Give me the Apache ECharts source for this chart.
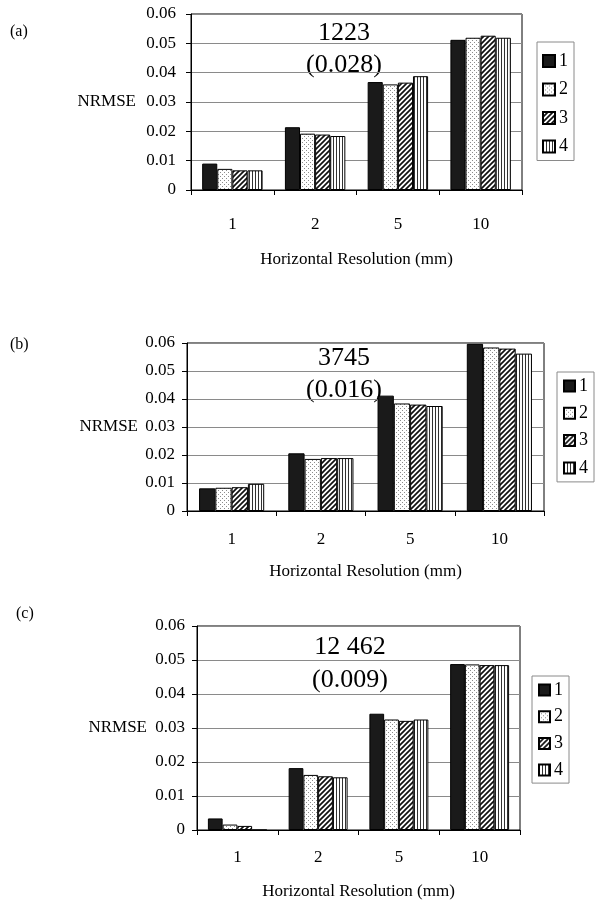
<!DOCTYPE html>
<html>
<head>
<meta charset="utf-8">
<script src="https://cdn.jsdelivr.net/npm/echarts@6/dist/echarts.min.js"></script>
<style>
html,body{margin:0;padding:0;background:#fff;}
#chart{width:605px;height:901px;}
</style>
</head>
<body>
<div id="chart"></div>
<script>
// ---- data ----
const categories = ['1', '2', '5', '10'];
const seriesNames = ['1', '2', '3', '4'];
const panelLabels = ['(a)', '(b)', '(c)'];
const yTicks = [0, 0.01, 0.02, 0.03, 0.04, 0.05, 0.06];
const yName = 'NRMSE';
const xName = 'Horizontal Resolution (mm)';

const a1 = [0.0090, 0.0214, 0.0368, 0.0512];
const a2 = [0.0072, 0.0192, 0.0360, 0.0519];
const a3 = [0.0067, 0.0189, 0.0366, 0.0526];
const a4 = [0.0067, 0.0184, 0.0388, 0.0519];

const b1 = [0.0081, 0.0206, 0.0412, 0.0597];
const b2 = [0.0083, 0.0186, 0.0384, 0.0584];
const b3 = [0.0085, 0.0189, 0.0380, 0.0580];
const b4 = [0.0097, 0.0189, 0.0375, 0.0562];

const c1 = [0.0034, 0.0182, 0.0342, 0.0488];
const c2 = [0.0016, 0.0162, 0.0325, 0.0487];
const c3 = [0.0012, 0.0158, 0.0321, 0.0485];
const c4 = [0, 0.0155, 0.0325, 0.0485];

const annA = ['1223', '(0.028)'];
const annB = ['3745', '(0.016)'];
const annC = ['12 462', '(0.009)'];

// ---- styles ----
const FONT = '"Liberation Serif", "Times New Roman", serif';

function makePattern(kind) {
  const c = document.createElement('canvas');
  let s = 4;
  if (kind === 'diag') s = 5;
  if (kind === 'vert') s = 3;
  c.width = s; c.height = s;
  const g = c.getContext('2d');
  g.fillStyle = '#fff';
  g.fillRect(0, 0, s, s);
  if (kind === 'dots') {
    g.fillStyle = '#8c8c8c';
    g.fillRect(0, 0, 1, 1);
    g.fillRect(2, 2, 1, 1);
  } else if (kind === 'diag') {
    g.strokeStyle = '#111';
    g.lineWidth = 1.7;
    g.beginPath();
    g.moveTo(0, s); g.lineTo(s, 0);
    g.moveTo(-1, 1); g.lineTo(1, -1);
    g.moveTo(s - 1, s + 1); g.lineTo(s + 1, s - 1);
    g.stroke();
  } else if (kind === 'vert') {
    g.fillStyle = '#333';
    g.fillRect(0, 0, 1, s);
  }
  return { image: c, repeat: 'repeat' };
}
const fills = ['#1a1a1a', makePattern('dots'), makePattern('diag'), makePattern('vert')];

const panels = [
  { data: [a1, a2, a3, a4], ann: annA,
    grid: { left: 191, top: 14, width: 331, height: 176 },
    labelMargin: 15, xLabelMargin: 26, xNameGap: 61, yNameGap: 55,
    legend: { left: 537, top: 42, itemGap: 10.5, padding: [10, 6, 5, 5], icon: 12 },
    label: { x: 10, y: 33 }, annX: [344, 344], annY: [33, 65] },
  { data: [b1, b2, b3, b4], ann: annB,
    grid: { left: 187, top: 343, width: 357, height: 168 },
    labelMargin: 12, xLabelMargin: 20, xNameGap: 52, yNameGap: 49,
    legend: { left: 557, top: 372, itemGap: 9.3, padding: [5, 6, 5, 6], icon: 11 },
    label: { x: 10, y: 346 }, annX: [344, 344], annY: [358, 390] },
  { data: [c1, c2, c3, c4], ann: annC,
    grid: { left: 197, top: 626, width: 323, height: 207 },
    labelMargin: 12, xLabelMargin: 19, xNameGap: 53, yNameGap: 50,
    legend: { left: 532, top: 676, itemGap: 8.7, padding: [5, 6, 4, 6], icon: 11 },
    label: { x: 16, y: 615 }, annX: [350, 350], annY: [647, 680] }
];

const grids = [], xAxes = [], yAxes = [], series = [], legends = [], graphics = [];
panels.forEach((p, i) => {
  grids.push(Object.assign({ show: true, borderColor: '#000', borderWidth: 1, backgroundColor: 'transparent', containLabel: false }, p.grid));
  xAxes.push({
    type: 'category', gridIndex: i, data: categories,
    boundaryGap: true,
    name: xName, nameLocation: 'middle', nameGap: p.xNameGap,
    nameTextStyle: { fontFamily: FONT, fontSize: 17, color: '#000' },
    axisLine: { lineStyle: { color: '#000', width: 1 } },
    axisTick: { show: true, length: 5, lineStyle: { color: '#000' } },
    axisLabel: { fontFamily: FONT, fontSize: 17, color: '#000', margin: p.xLabelMargin },
    splitLine: { show: false }
  });
  yAxes.push({
    type: 'value', gridIndex: i, min: yTicks[0], max: yTicks[yTicks.length - 1], interval: 0.01,
    name: yName, nameLocation: 'middle', nameRotate: 0, nameGap: p.yNameGap,
    nameTextStyle: { fontFamily: FONT, fontSize: 17, color: '#000', align: 'right', verticalAlign: 'middle' },
    axisLine: { show: true, lineStyle: { color: '#000', width: 1 } },
    axisTick: { show: true, length: 5, lineStyle: { color: '#000' } },
    axisLabel: { fontFamily: FONT, fontSize: 17, color: '#000', margin: p.labelMargin,
      formatter: v => (v === 0 ? '0' : v.toFixed(2)) },
    splitLine: { show: true, lineStyle: { color: '#8a8a8a', width: 1 } }
  });
  p.data.forEach((vals, k) => {
    series.push({
      type: 'bar', name: seriesNames[k], xAxisIndex: i, yAxisIndex: i,
      data: vals, barGap: '0%', barCategoryGap: '27%',
      itemStyle: { color: fills[k], borderColor: '#000', borderWidth: 1 },
      emphasis: { disabled: true }, animation: false
    });
  });
  legends.push({
    orient: 'vertical', left: p.legend.left, top: p.legend.top,
    padding: p.legend.padding, itemGap: p.legend.itemGap,
    itemWidth: p.legend.icon, itemHeight: p.legend.icon, icon: 'rect',
    borderColor: '#8a8a8a', borderWidth: 1, selectedMode: false,
    data: seriesNames.map(n => ({ name: n })),
    textStyle: { fontFamily: FONT, fontSize: 18, color: '#000', padding: [0, 0, 0, -1] }
  });
  graphics.push({ type: 'text', left: p.label.x, top: p.label.y - 9,
    style: { text: panelLabels[i], font: '16px ' + FONT, fill: '#000' } });
  p.ann.forEach((t, j) => {
    graphics.push({ type: 'text', x: p.annX[j], y: p.annY[j],
      style: { text: t, font: '26px ' + FONT, fill: '#000', textAlign: 'center', textVerticalAlign: 'middle' } });
  });
});

const chart = echarts.init(document.getElementById('chart'), null, { renderer: 'canvas' });
chart.setOption({
  animation: false,
  backgroundColor: '#fff',
  grid: grids, xAxis: xAxes, yAxis: yAxes, series: series,
  legend: legends, graphic: graphics
});
</script>
</body>
</html>
